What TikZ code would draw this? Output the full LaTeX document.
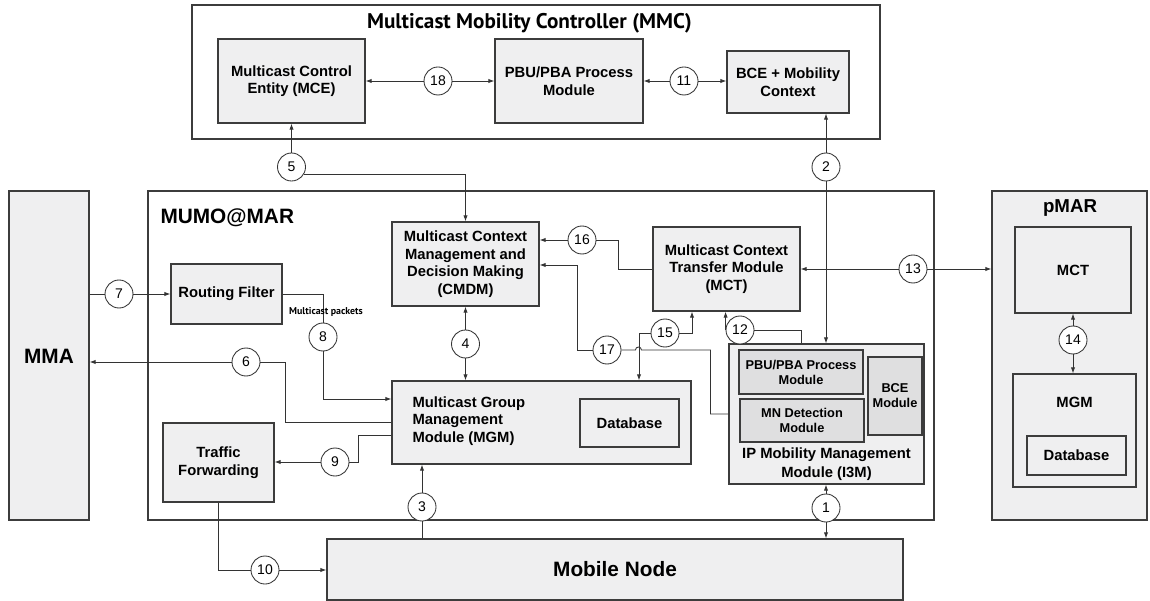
\documentclass[tikz,border=0pt]{standalone}
\usepackage{fontspec}
\setmainfont{Liberation Sans}
\newfontfamily\titlefont{PT Sans}
\usetikzlibrary{arrows.meta,calc}

\definecolor{boxfill}{HTML}{EFEFF0}
\definecolor{innerfill}{HTML}{DFDFE0}
\definecolor{edge}{HTML}{3C3C3C}
\definecolor{wire}{HTML}{333333}

\newcommand\pxfont[2]{\fontsize{#1pt}{#2pt}\selectfont}

\begin{document}
\begin{tikzpicture}[x=1pt,y=-1pt,
  >={Latex[length=6pt,width=4.2pt]},
  frame/.style={draw=edge, line width=1.2pt, fill=white, inner sep=0pt},
  box/.style={draw=edge, line width=1.1pt, fill=boxfill, inner sep=0pt,
    align=center, font=\pxfont{14.8}{17.6}\bfseries},
  inner/.style={box, fill=innerfill, font=\pxfont{12.8}{15}\bfseries},
  conn/.style={draw=wire, line width=0.85pt},
  num/.style={circle, draw=wire, line width=0.85pt, fill=white,
    minimum size=28pt, inner sep=0pt, font=\pxfont{14}{16}},
  big/.style={font=\pxfont{20.8}{24}\bfseries}
]
\useasboundingbox (0,0) rectangle (1150,601);

% ---------- outer frames ----------
\node[frame, minimum width=688pt, minimum height=134pt] (mmc) at (536,72) {};
\node[frame, minimum width=786pt, minimum height=329pt] (mumo) at (541,355.5) {};
\node[box, minimum width=80pt, minimum height=329pt] (mma) at (49,355.5) {};
\node[box, minimum width=155pt, minimum height=329pt] (pmar) at (1069.5,355.5) {};

\node[font=\titlefont\bfseries\pxfont{21.2}{24}] (mmctitle) at (529.5,23) {Multicast Mobility Controller (MMC)};
\node[big, anchor=west] (mumotitle) at (157,218) {MUMO@MAR};
\node[big] (mmatitle) at (49,356) {MMA};
\node[font=\pxfont{18.7}{22}\bfseries] (pmartitle) at (1070,208) {pMAR};

% ---------- MMC modules ----------
\node[box, minimum width=147pt, minimum height=84pt] (mce) at (291.5,81) {Multicast Control\\Entity (MCE)};
\node[box, minimum width=148pt, minimum height=84pt] (pbu) at (569,81) {PBU/PBA Process\\Module};
\node[box, minimum width=122pt, minimum height=62pt] (bce) at (788,82) {BCE + Mobility\\Context};

% ---------- MUMO@MAR modules ----------
\node[box, minimum width=111pt, minimum height=60pt] (rf) at (226.5,294) {Routing Filter};
\node[box, minimum width=111pt, minimum height=79pt] (tf) at (218.5,462.5) {Traffic\\Forwarding};
\node[box, minimum width=147pt, minimum height=84pt] (cmdm) at (465.5,264) {Multicast Context\\Management and\\Decision Making\\(CMDM)};
\node[box, minimum width=147pt, minimum height=84pt] (mct) at (726.5,269) {Multicast Context\\Transfer Module\\(MCT)};
\node[box, minimum width=299pt, minimum height=83pt] (mgm) at (541.5,422.5) {};
\node[box, align=left, anchor=west] (mgmtext) at (412,421) [draw=none, fill=none] {Multicast Group\\Management\\Module (MGM)};
\node[box, minimum width=99pt, minimum height=48pt] (db) at (629.5,423) {Database};

\node[box, minimum width=195pt, minimum height=140pt] (i3m) at (826.5,414) {};
\node[inner, minimum width=124pt, minimum height=44pt] (pbu2) at (801,372) {PBU/PBA Process\\Module};
\node[inner, minimum width=124pt, minimum height=43pt] (mnd) at (802,420.5) {MN Detection\\Module};
\node[inner, minimum width=54pt, minimum height=78pt] (bcem) at (895,396) {BCE\\Module};
\node[font=\pxfont{14.8}{19}\bfseries, align=center] (i3mtext) at (826.5,464.5) {IP Mobility Management\\Module (I3M)};

% ---------- pMAR modules ----------
\node[box, minimum width=116pt, minimum height=86pt] (pmct) at (1073,270) {MCT};
\node[box, minimum width=123pt, minimum height=113pt] (pmgm) at (1074.5,430.5) {};
\node[font=\pxfont{14.8}{17}\bfseries] (pmgmtext) at (1074.5,402) {MGM};
\node[box, minimum width=99pt, minimum height=39pt] (pdb) at (1076.5,455.5) {Database};

% ---------- mobile node ----------
\node[box, big, minimum width=576pt, minimum height=61pt] (mn) at (615,569.5) {Mobile Node};

% ---------- numbered interfaces ----------
\node[num] (c18) at (438,81) {18};
\node[num] (c11) at (684,81) {11};
\node[num] (c5) at (291.5,167) {5};
\node[num] (c2) at (826,167) {2};
\node[num] (c7) at (119,294) {7};
\node[num] (c8) at (323,337) {8};
\node[num] (c6) at (246,362) {6};
\node[num] (c9) at (335,462) {9};
\node[num] (c16) at (582,240) {16};
\node[num] (c17) at (607,350) {17};
\node[num] (c15) at (665,333) {15};
\node[num] (c4) at (465.5,344) {4};
\node[num] (c12) at (740,330) {12};
\node[num] (c13) at (913,269) {13};
\node[num] (c14) at (1073,340) {14};
\node[num] (c3) at (422,507) {3};
\node[num] (c1) at (826,508) {1};
\node[num] (c10) at (265,570) {10};

% ---------- bend points ----------
\coordinate (k17) at (577,265);
\coordinate (k15a) at (639,333);
\coordinate (k15b) at (692,333);
\coordinate (k12) at (801,330);

% ---------- connectors ----------
% MMC internal
\draw[conn,->] (c18) -- (c18 -| mce.east);
\draw[conn,->] (c18) -- (c18 -| pbu.west);
\draw[conn,->] (c11) -- (c11 -| pbu.east);
\draw[conn,->] (c11) -- (c11 -| bce.west);
% 5: MCE <-> CMDM
\draw[conn,->] (c5) -- (c5 |- mce.south);
\draw[conn,->] (c5.-30) -| (cmdm.north);
% 2: BCE <-> I3M
\draw[conn,->] (c2) -- (c2 |- bce.south);
\draw[conn,->] (c2) -- (c2 |- i3m.north);
% 7: MMA -> routing filter
\draw[conn] (mma.east |- c7) -- (c7);
\draw[conn,->] (c7) -- (rf.west);
% 8: multicast packets to MGM
\draw[conn] (rf.east) -| (c8);
\draw[conn,->] (c8) |- ([yshift=23.5pt]mgm.west);
\node[font=\titlefont\bfseries\pxfont{9.9}{11}] (mplabel) at (326,312) {Multicast packets};
% 6: MGM -> MMA
\draw[conn] (mgm.west) -- ++(-106,0) |- (c6);
\draw[conn,->] (c6) -- (c6 -| mma.east);
% 9: MGM -> traffic forwarding
\draw[conn] ([yshift=-12.5pt]mgm.west) -- ++(-33,0) |- (c9);
\draw[conn,->] (c9) -- (c9 -| tf.east);
% 10: traffic forwarding -> mobile node
\draw[conn] (tf.south) |- (c10);
\draw[conn,->] (c10) -- (c10 -| mn.west);
% 3: mobile node -> MGM
\draw[conn] (c3 |- mn.north) -- (c3);
\draw[conn,->] (c3) -- (c3 |- mgm.south);
% 1: I3M <-> mobile node
\draw[conn,->] (c1) -- (c1 |- i3m.south);
\draw[conn,->] (c1) -- (c1 |- mn.north);
% 4: CMDM <-> MGM
\draw[conn,->] (c4) -- (c4 |- cmdm.south);
\draw[conn,->] (c4) -- (c4 |- mgm.north);
% 16: MCT -> CMDM
\draw[conn] (mct.west) -- ++(-34,0) |- (c16);
\draw[conn,->] (c16) -- (c16 -| cmdm.east);
% 17: I3M -> CMDM (hops over 15)
\draw[conn] (i3m.west) -- ++(-18,0) -- ++(0,-64) -- ++(-69,0)
  arc[start angle=0, end angle=180, radius=3pt] -- (c17);
\draw[conn,->] (c17) -| (k17) -- (k17 -| cmdm.east);
% 15: MGM <-> MCT
\draw[conn,->] (c15) -- (k15a) -- (k15a |- mgm.north);
\draw[conn,->] (c15) -- (k15b) -- (k15b |- mct.south);
% 12: I3M -> MCT
\draw[conn] (k12 |- i3m.north) -- (k12) -- (c12);
\draw[conn,->] (c12.west) -- (c12.west |- mct.south);
% 13: MCT <-> pMAR
\draw[conn,->] (c13) -- (c13 -| mct.east);
\draw[conn,->] (c13) -- (c13 -| pmar.west);
% 14: pMAR MCT <-> MGM
\draw[conn,->] (c14) -- (c14 |- pmct.south);
\draw[conn,->] (c14) -- (c14 |- pmgm.north);
\end{tikzpicture}
\end{document}
